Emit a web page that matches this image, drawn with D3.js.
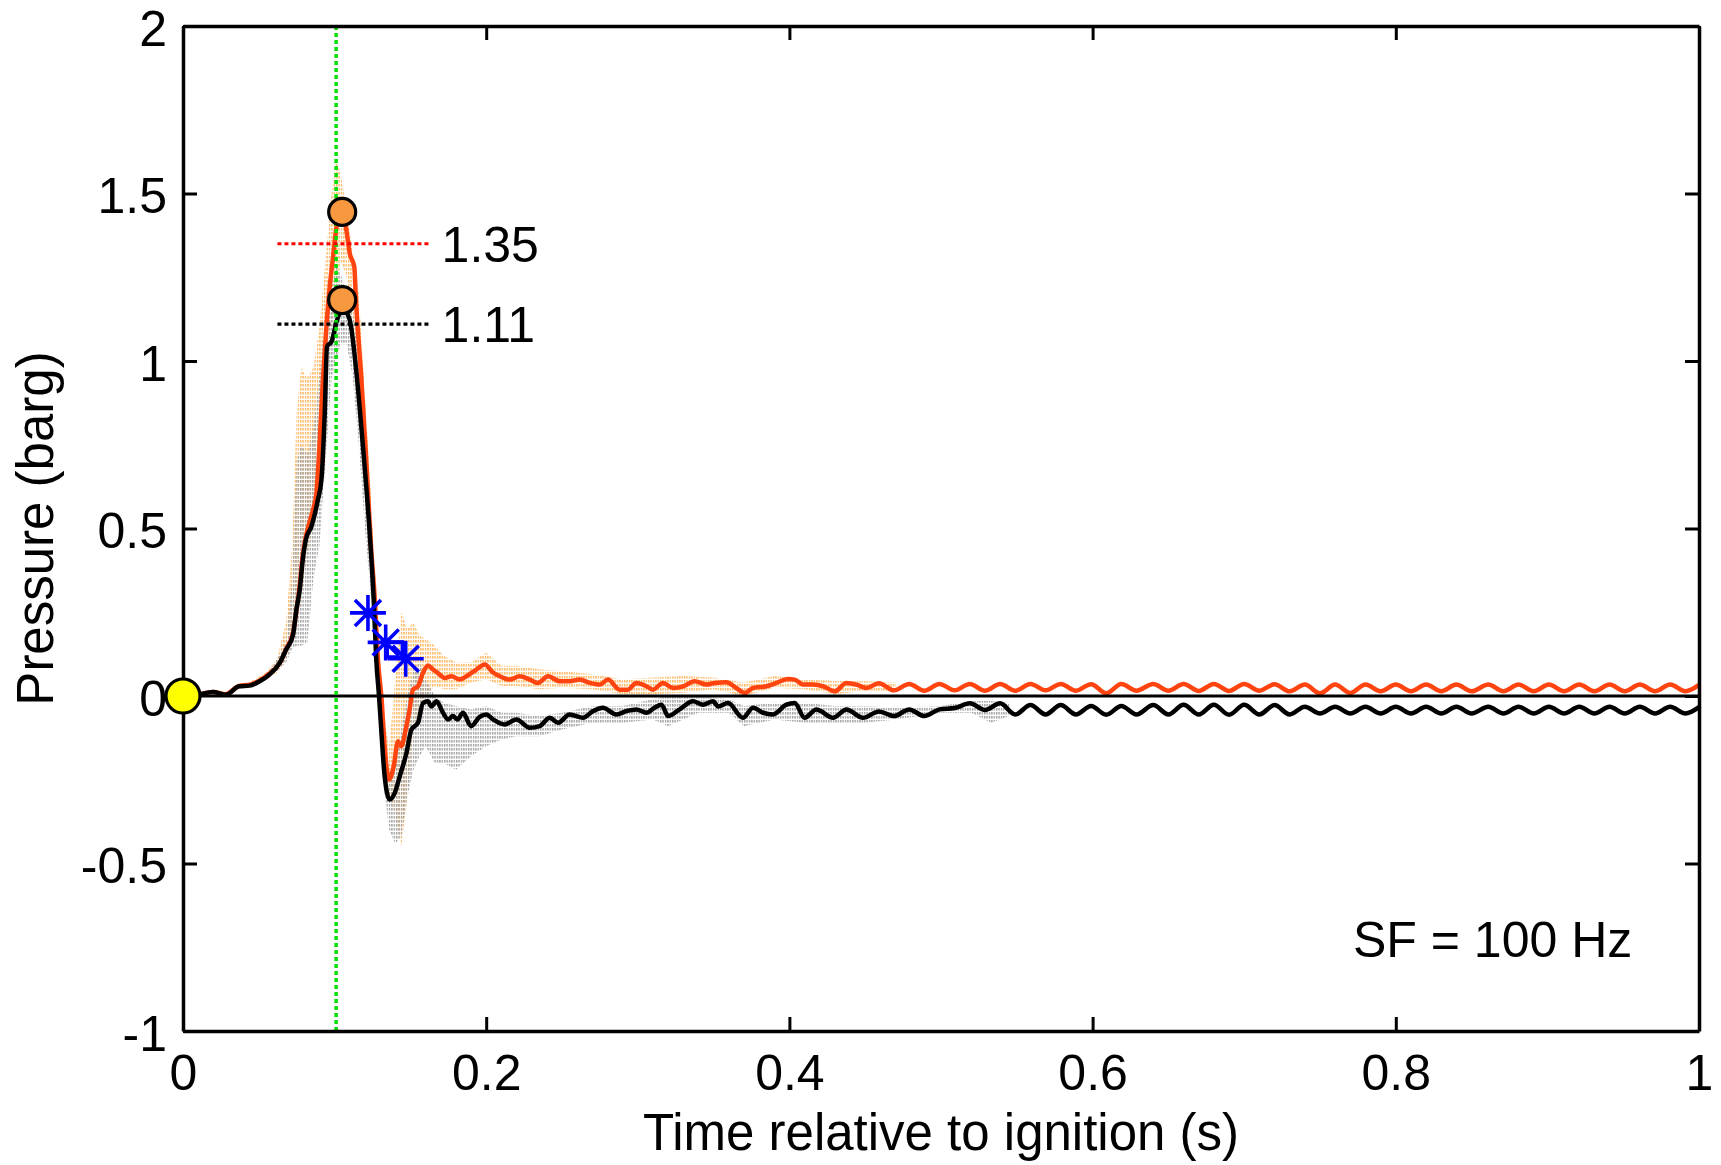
<!DOCTYPE html>
<html>
<head>
<meta charset="utf-8">
<script src="https://cdn.jsdelivr.net/npm/d3@7"></script>
<style>
  body { margin: 0; background: #fff; }
  text { font-family: "Liberation Sans", Arial, sans-serif; fill: #000; }
</style>
</head>
<body>
<div id="chart"></div>
<script>
const width = 1721;
const height = 1165;

// ---- data ----
const xTicks = [0, 0.2, 0.4, 0.6, 0.8, 1];
const yTicks = [-1, -0.5, 0, 0.5, 1, 1.5, 2];

// filtered traces, early part as [time, pressure]
const redEarly = [
  [0,0],[0.01,0.004],[0.02,0.012],[0.028,0.005],[0.037,0.03],[0.044,0.034],[0.051,0.047],[0.057,0.067],
  [0.064,0.1],[0.068,0.14],[0.0726,0.19],[0.075,0.26],[0.077,0.33],[0.079,0.42],[0.081,0.475],[0.0835,0.52],
  [0.086,0.56],[0.088,0.605],[0.09,0.745],[0.0923,0.943],[0.0946,1.102],[0.0968,1.222],[0.099,1.311],
  [0.1016,1.41],[0.105,1.445],[0.1078,1.39],[0.11,1.321],[0.113,1.281],[0.114,1.19],[0.1177,0.943],
  [0.121,0.695],[0.124,0.446],[0.1265,0.29],[0.1286,0.108],[0.131,-0.01],[0.133,-0.15],[0.1359,-0.249],
  [0.139,-0.21],[0.1418,-0.135],[0.144,-0.15],[0.1469,-0.1],[0.1495,-0.04],[0.1517,0.019],[0.155,0.029],
  [0.1583,0.069],[0.1616,0.091],[0.165,0.079],[0.168,0.069],[0.1726,0.054],[0.177,0.059],[0.1825,0.049],
  [0.187,0.059],[0.1935,0.079],[0.199,0.094],[0.2045,0.07],[0.209,0.059],[0.2155,0.049],[0.222,0.059],
  [0.2287,0.049],[0.234,0.039],[0.2408,0.059],[0.2485,0.044],[0.255,0.044],[0.2617,0.049],[0.2683,0.039],
  [0.275,0.034],[0.2803,0.049],[0.288,0.019],[0.2935,0.019],[0.299,0.039],[0.3057,0.029],[0.31,0.019],
  [0.3166,0.039],[0.3232,0.024],[0.33,0.029],[0.3375,0.044],[0.3452,0.034],[0.3507,0.039],[0.3584,0.041],
  [0.365,0.024],[0.3705,0.009],[0.376,0.024],[0.3848,0.029],[0.3914,0.039],[0.399,0.051],[0.4035,0.049],
  [0.409,0.034],[0.4156,0.034],[0.4222,0.029],[0.43,0.014],[0.4376,0.039],[0.4442,0.034],[0.4508,0.024]
];
const blackEarly = [
  [0,0],[0.01,0.004],[0.0196,0.012],[0.0286,0.004],[0.037,0.029],[0.044,0.031],[0.0506,0.044],[0.057,0.064],
  [0.0638,0.099],[0.068,0.138],[0.0726,0.183],[0.0748,0.258],[0.077,0.317],[0.079,0.407],[0.081,0.466],
  [0.0847,0.506],[0.089,0.586],[0.0913,0.645],[0.0935,0.844],[0.095,1.043],[0.098,1.058],[0.1016,1.122],
  [0.1055,1.155],[0.11,1.122],[0.114,0.983],[0.1187,0.745],[0.123,0.496],[0.1258,0.287],[0.1275,0.108],
  [0.1293,0],[0.1309,-0.11],[0.133,-0.239],[0.1363,-0.309],[0.1397,-0.289],[0.143,-0.239],[0.1474,-0.17],
  [0.1507,-0.1],[0.155,-0.08],[0.1583,-0.021],[0.1616,-0.016],[0.1638,-0.031],[0.1672,-0.016],[0.1715,-0.05],
  [0.175,-0.07],[0.178,-0.06],[0.181,-0.07],[0.1847,-0.05],[0.19,-0.09],[0.1957,-0.062],[0.2,-0.055],
  [0.2045,-0.07],[0.2122,-0.085],[0.22,-0.07],[0.2287,-0.095],[0.2353,-0.09],[0.2419,-0.065],[0.2474,-0.08],
  [0.255,-0.055],[0.2639,-0.065],[0.2705,-0.045],[0.277,-0.035],[0.2859,-0.055],[0.2925,-0.045],[0.299,-0.04],
  [0.3057,-0.05],[0.311,-0.035],[0.3156,-0.026],[0.32,-0.06],[0.3276,-0.04],[0.3364,-0.016],[0.343,-0.026],
  [0.3496,-0.016],[0.353,-0.031],[0.3595,-0.021],[0.3694,-0.065],[0.376,-0.035],[0.3826,-0.05],[0.3892,-0.055],
  [0.398,-0.026],[0.4035,-0.021],[0.41,-0.065],[0.4178,-0.04],[0.4288,-0.065],[0.4376,-0.04],[0.4486,-0.065]
];

// oscillating tail, shared time base
const tailTime = [
  0.459,0.469,0.479,0.489,0.499,0.509,0.519,0.529,0.539,0.549,0.559,0.569,0.579,0.589,0.599,0.609,
  0.619,0.629,0.64,0.65,0.66,0.67,0.68,0.69,0.7,0.71,0.72,0.73,0.74,0.75,0.76,0.77,0.78,0.79,0.8,0.81,
  0.82,0.83,0.84,0.85,0.861,0.871,0.881,0.891,0.901,0.911,0.921,0.931,0.941,0.951,0.961,0.971,0.981,0.991,1.0
];
const redTail = [
  0.038,0.017,0.036,0.016,0.036,0.017,0.036,0.016,0.036,0.016,0.036,0.017,0.036,0.016,0.035,0.008,
  0.036,0.016,0.036,0.016,0.036,0.015,0.036,0.015,0.036,0.016,0.035,0.014,0.034,0.008,0.034,0.009,0.034,0.014,0.034,0.014,
  0.034,0.014,0.034,0.014,0.034,0.014,0.034,0.014,0.034,0.014,0.034,0.014,0.034,0.014,0.034,0.014,0.034,0.014,0.033
];
const blackTail = [
  -0.046,-0.06,-0.04,-0.06,-0.04,-0.036,-0.022,-0.042,-0.022,-0.055,-0.027,-0.055,-0.027,-0.055,-0.03,-0.056,
  -0.03,-0.055,-0.027,-0.055,-0.026,-0.055,-0.026,-0.056,-0.026,-0.055,-0.027,-0.055,-0.032,-0.052,-0.032,-0.052,-0.032,-0.052,-0.032,-0.052,
  -0.032,-0.052,-0.032,-0.052,-0.032,-0.052,-0.032,-0.052,-0.032,-0.052,-0.032,-0.052,-0.032,-0.052,-0.032,-0.052,-0.032,-0.052,-0.033
];

// raw (unfiltered) scatter envelopes: [time, low, high]
const orangeRaw = [
  [0.045,0.035,0.045],[0.055,0.05,0.07],[0.062,0.07,0.11],[0.068,0.11,0.22],[0.072,0.16,0.45],[0.075,0.22,0.85],
  [0.078,0.3,0.98],[0.082,0.42,0.95],[0.086,0.5,0.98],[0.09,0.6,1.1],[0.094,0.85,1.3],[0.098,1.1,1.5],
  [0.101,1.2,1.6],[0.104,1.3,1.56],[0.108,1.25,1.45],[0.112,1.05,1.32],[0.116,0.85,1.2],[0.12,0.6,0.9],
  [0.124,0.35,0.6],[0.128,0.05,0.2],[0.132,-0.2,-0.05],[0.136,-0.3,-0.15],[0.14,-0.35,0.05],[0.144,-0.45,0.25],
  [0.148,-0.3,0.2],[0.152,-0.1,0.22],[0.156,-0.05,0.18],[0.16,0.0,0.17],[0.166,0.03,0.15],[0.172,0.02,0.12],
  [0.18,0.02,0.1],[0.19,0.04,0.1],[0.2,0.05,0.13],[0.21,0.03,0.09],[0.22,0.03,0.09],[0.235,0.02,0.08],
  [0.25,0.025,0.075],[0.27,0.02,0.065],[0.29,0.005,0.05],[0.31,0.005,0.055],[0.33,0.01,0.06],[0.35,0.02,0.055],
  [0.37,0.0,0.04],[0.39,0.025,0.06],[0.41,0.02,0.05],[0.43,0.005,0.045],[0.45,0.015,0.045],[0.47,0.012,0.04]
];
const grayRaw = [
  [0.045,0.03,0.04],[0.055,0.05,0.065],[0.062,0.075,0.11],[0.068,0.1,0.16],[0.072,0.14,0.35],[0.075,0.15,0.7],
  [0.078,0.15,0.75],[0.082,0.16,0.72],[0.086,0.35,0.8],[0.09,0.45,0.95],[0.094,0.7,1.15],[0.098,0.95,1.22],
  [0.101,1.0,1.28],[0.104,1.05,1.26],[0.108,1.05,1.2],[0.112,0.95,1.15],[0.116,0.75,1.0],[0.12,0.5,0.75],
  [0.124,0.3,0.5],[0.128,0.0,0.2],[0.132,-0.25,-0.05],[0.136,-0.4,-0.25],[0.14,-0.44,-0.2],[0.144,-0.42,-0.1],
  [0.148,-0.3,0.0],[0.152,-0.22,0.08],[0.156,-0.18,0.1],[0.16,-0.15,0.05],[0.166,-0.2,0.0],[0.172,-0.2,-0.02],
  [0.18,-0.22,-0.03],[0.19,-0.18,-0.04],[0.2,-0.15,-0.03],[0.21,-0.13,-0.05],[0.22,-0.12,-0.05],[0.235,-0.12,-0.06],
  [0.25,-0.1,-0.05],[0.27,-0.08,-0.03],[0.29,-0.08,-0.03],[0.31,-0.07,-0.01],[0.32,-0.09,0.0],[0.34,-0.05,0.0],
  [0.36,-0.05,-0.01],[0.37,-0.09,-0.03],[0.39,-0.07,-0.02],[0.41,-0.08,-0.02],[0.43,-0.08,-0.03],[0.45,-0.08,-0.03],
  [0.47,-0.07,-0.035],[0.5,-0.05,-0.03],[0.52,-0.05,-0.015],[0.533,-0.08,-0.015],[0.545,-0.06,-0.02]
];

// annotations
const peakTime = 0.101;                 // green marker line
const peakMarkers = [[0.105, 1.445], [0.105, 1.182]];
const levelLines = [
  { value: 1.35, label: "1.35", color: "#ff0000" },
  { value: 1.11, label: "1.11", color: "#000000" }
];
const levelSpan = [0.0623, 0.162];
const asterisks = [[0.122, 0.248], [0.1337, 0.16], [0.1469, 0.111]];
const squareMark = [0.1397, 0.139];
const ignition = [0, 0];

// ---- chart ----
const x = d3.scaleLinear().domain([0, 1]).range([183, 1699]);
const y = d3.scaleLinear().domain([-1, 2]).range([1031, 26]);

const svg = d3.select("#chart")
    .append("svg")
    .attr("width", width)
    .attr("height", height);

const defs = svg.append("defs");
function hatch(id, color) {
    const p = defs.append("pattern")
        .attr("id", id)
        .attr("patternUnits", "userSpaceOnUse")
        .attr("width", 2.4)
        .attr("height", 4);
    p.append("rect")
        .attr("width", 1.4)
        .attr("height", 2.6)
        .attr("fill", color);
}
hatch("orangeHatch", "#fdb862");
hatch("grayHatch", "#a3a3a3");

const band = d3.area()
    .x(d => x(d[0]))
    .y0(d => y(d[1]))
    .y1(d => y(d[2]))
    .curve(d3.curveLinear);

svg.append("path")
    .datum(orangeRaw)
    .attr("d", band)
    .attr("fill", "url(#orangeHatch)");

svg.append("path")
    .datum(grayRaw)
    .attr("d", band)
    .attr("fill", "url(#grayHatch)");

const line = d3.line()
    .x(d => x(d[0]))
    .y(d => y(d[1]))
    .curve(d3.curveMonotoneX);

const redData = redEarly.concat(tailTime.map((t, i) => [t, redTail[i]]));
const blackData = blackEarly.concat(tailTime.map((t, i) => [t, blackTail[i]]));

svg.append("path")
    .datum(redData)
    .attr("d", line)
    .attr("fill", "none")
    .attr("stroke", "#ff4410")
    .attr("stroke-width", 4.5)
    .attr("stroke-linejoin", "round");

svg.append("path")
    .datum(blackData)
    .attr("d", line)
    .attr("fill", "none")
    .attr("stroke", "#000")
    .attr("stroke-width", 4.5)
    .attr("stroke-linejoin", "round");

// zero line
svg.append("line")
    .attr("x1", x(0)).attr("x2", x(1))
    .attr("y1", y(0)).attr("y2", y(0))
    .attr("stroke", "#000")
    .attr("stroke-width", 3);

// green dotted line at peak time
svg.append("line")
    .attr("x1", x(peakTime)).attr("x2", x(peakTime))
    .attr("y1", y(2)).attr("y2", y(-1))
    .attr("stroke", "#00e000")
    .attr("stroke-width", 3.5)
    .attr("stroke-dasharray", "4,3");

// dotted level lines with labels
levelLines.forEach(l => {
    svg.append("line")
        .attr("x1", x(levelSpan[0])).attr("x2", x(levelSpan[1]))
        .attr("y1", y(l.value)).attr("y2", y(l.value))
        .attr("stroke", l.color)
        .attr("stroke-width", 3.2)
        .attr("stroke-dasharray", "4,3");
    svg.append("text")
        .attr("x", x(levelSpan[1]) + 13)
        .attr("y", y(l.value))
        .attr("dy", "0.36em")
        .attr("font-size", 50)
        .text(l.label);
});

// peak markers
svg.selectAll(".peak")
    .data(peakMarkers)
    .enter().append("circle")
    .attr("class", "peak")
    .attr("cx", d => x(d[0]))
    .attr("cy", d => y(d[1]))
    .attr("r", 13.5)
    .attr("fill", "#f7983f")
    .attr("stroke", "#000")
    .attr("stroke-width", 3.2);

// blue markers
const star = "M-18,0H18M0,-18V18M-13,-13L13,13M-13,13L13,-13";
svg.selectAll(".star")
    .data(asterisks)
    .enter().append("path")
    .attr("class", "star")
    .attr("transform", d => `translate(${x(d[0])},${y(d[1])})`)
    .attr("d", star)
    .attr("fill", "none")
    .attr("stroke", "#0000ff")
    .attr("stroke-width", 3.6);

svg.append("rect")
    .attr("x", x(squareMark[0]) - 7.5)
    .attr("y", y(squareMark[1]) - 7.5)
    .attr("width", 15)
    .attr("height", 15)
    .attr("fill", "none")
    .attr("stroke", "#0000ff")
    .attr("stroke-width", 3.4);

// ---- axes (box with inward ticks) ----
const fmt = d => String(d);
const gx = svg.append("g")
    .attr("transform", `translate(0,${y(-1)})`)
    .call(d3.axisBottom(x).tickValues(xTicks).tickFormat(fmt)
        .tickSizeInner(-14).tickSizeOuter(0).tickPadding(23));
const gxTop = svg.append("g")
    .attr("transform", `translate(0,${y(2)})`)
    .call(d3.axisTop(x).tickValues(xTicks).tickFormat("")
        .tickSizeInner(-14).tickSizeOuter(0));
const gy = svg.append("g")
    .attr("transform", `translate(${x(0)},0)`)
    .call(d3.axisLeft(y).tickValues(yTicks).tickFormat(fmt)
        .tickSizeInner(-14).tickSizeOuter(0).tickPadding(16));
const gyRight = svg.append("g")
    .attr("transform", `translate(${x(1)},0)`)
    .call(d3.axisRight(y).tickValues(yTicks).tickFormat("")
        .tickSizeInner(-14).tickSizeOuter(0));

[gx, gxTop, gy, gyRight].forEach(g => {
    g.select(".domain").attr("stroke", "#000").attr("stroke-width", 3.5);
    g.selectAll(".tick line").attr("stroke", "#000").attr("stroke-width", 3);
    g.selectAll(".tick text")
        .attr("font-size", 50)
        .attr("font-family", "'Liberation Sans', Arial, sans-serif")
        .attr("fill", "#000");
});
gy.selectAll(".tick text").attr("dy", "0.38em");

// ignition marker sits on the axis
svg.append("circle")
    .attr("cx", x(ignition[0]))
    .attr("cy", y(ignition[1]))
    .attr("r", 17)
    .attr("fill", "#ffff00")
    .attr("stroke", "#000")
    .attr("stroke-width", 3.2);

// axis titles
svg.append("text")
    .attr("x", (x(0) + x(1)) / 2)
    .attr("y", 1150)
    .attr("text-anchor", "middle")
    .attr("font-size", 51)
    .text("Time relative to ignition (s)");

svg.append("text")
    .attr("transform", `translate(53,${(y(2) + y(-1)) / 2}) rotate(-90)`)
    .attr("text-anchor", "middle")
    .attr("font-size", 51)
    .text("Pressure (barg)");

svg.append("text")
    .attr("x", 1353)
    .attr("y", 957)
    .attr("font-size", 50)
    .text("SF = 100 Hz");
</script>
</body>
</html>
